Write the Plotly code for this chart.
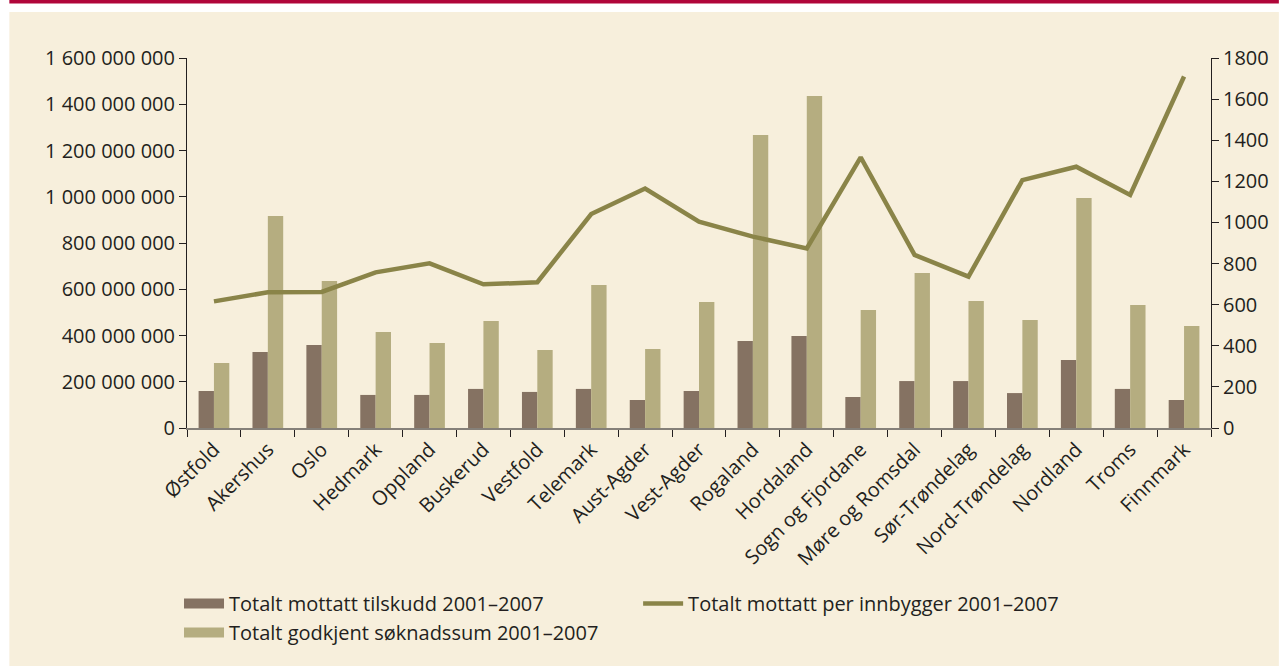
import plotly.graph_objects as go

# ---- data ----
categories = ["Østfold", "Akershus", "Oslo", "Hedmark", "Oppland", "Buskerud", "Vestfold",
              "Telemark", "Aust-Agder", "Vest-Agder", "Rogaland", "Hordaland",
              "Sogn og Fjordane", "Møre og Romsdal", "Sør-Trøndelag", "Nord-Trøndelag",
              "Nordland", "Troms", "Finnmark"]
tilskudd = [160e6, 329e6, 359e6, 143e6, 143e6, 169e6, 156e6, 169e6, 121e6, 160e6,
            376e6, 398e6, 134e6, 203e6, 203e6, 151e6, 294e6, 169e6, 121e6]
soknadssum = [281e6, 917e6, 636e6, 415e6, 368e6, 463e6, 337e6, 618e6, 342e6, 545e6,
              1267e6, 1436e6, 510e6, 670e6, 549e6, 467e6, 995e6, 532e6, 441e6]
per_innbygger = [616, 660, 662, 757, 801, 699, 709, 1041, 1165, 1004,
                 931, 874, 1317, 842, 736, 1206, 1271, 1134, 1710]

left_tickvals = [0, 2e8, 4e8, 6e8, 8e8, 1e9, 1.2e9, 1.4e9, 1.6e9]
left_ticktext = ["0", "200 000 000", "400 000 000", "600 000 000", "800 000 000",
                 "1 000 000 000", "1 200 000 000", "1 400 000 000", "1 600 000 000"]
right_tickvals = [0, 200, 400, 600, 800, 1000, 1200, 1400, 1600, 1800]
right_ticktext = ["0", "200", "400", "600", "800", "1000", "1200", "1400", "1600", "1800"]

name_tilskudd = "Totalt mottatt tilskudd 2001–2007"
name_soknad = "Totalt godkjent søknadssum 2001–2007"
name_line = "Totalt mottatt per innbygger 2001–2007"

# ---- style ----
C_DARK = "#857262"
C_LIGHT = "#b5ad80"
C_LINE = "#8a8448"
C_BG = "#f7efdc"
C_RED = "#b0063a"
C_TEXT = "#231f20"
FONT = "Open Sans"
FS = 20

W, H = 1281, 666
L, R, T, B = 187, 1213, 58, 428  # plot area in pixels


def px(x):
    return (x - L) / (R - L)


def py(y):
    return (B - y) / (B - T)


fig = go.Figure()
fig.add_trace(go.Bar(x=categories, y=tilskudd, name=name_tilskudd, marker_color=C_DARK,
                     marker_line_width=0, showlegend=False))
fig.add_trace(go.Bar(x=categories, y=soknadssum, name=name_soknad, marker_color=C_LIGHT,
                     marker_line_width=0, showlegend=False))
fig.add_trace(go.Scatter(x=categories, y=per_innbygger, name=name_line, mode="lines",
                         line=dict(color=C_LINE, width=4.5), yaxis="y2", legend="legend2"))
# legend swatches for the bar series (wide rectangles as in the reference)
fig.add_trace(go.Scatter(x=[None], y=[None], mode="lines", name=name_tilskudd,
                         line=dict(color=C_DARK, width=12), legend="legend"))
fig.add_trace(go.Scatter(x=[None], y=[None], mode="lines", name=name_soknad,
                         line=dict(color=C_LIGHT, width=12), legend="legend"))

axis_common = dict(showgrid=False, zeroline=False, showline=True, ticks="outside", ticklen=7,
                   tickcolor=C_TEXT, tickwidth=1, tickfont=dict(family=FONT, size=FS, color=C_TEXT))

fig.update_layout(
    width=W, height=H, autosize=False,
    margin=dict(l=L, r=W - R, t=T, b=H - B, pad=0),
    paper_bgcolor="white", plot_bgcolor=C_BG,
    font=dict(family=FONT, size=FS, color=C_TEXT),
    barmode="group", bargap=0.43, bargroupgap=0,
    xaxis=dict(type="category", range=[-0.5, len(categories) - 0.5], tickangle=-45,
               tickson="boundaries", showgrid=False, zeroline=False, showline=True,
               linecolor="#858079", linewidth=2, ticks="outside", ticklen=7,
               tickcolor=C_TEXT, tickwidth=1,
               tickfont=dict(family=FONT, size=FS, color=C_TEXT)),
    yaxis=dict(range=[0, 1.6e9], tickvals=left_tickvals, ticktext=left_ticktext,
               linecolor=C_TEXT, linewidth=1, **axis_common),
    yaxis2=dict(range=[0, 1800], tickvals=right_tickvals, ticktext=right_ticktext,
                overlaying="y", side="right", linecolor=C_TEXT, linewidth=1, **axis_common),
    legend=dict(x=px(179), y=py(584), xanchor="left", yanchor="top", orientation="v",
                itemwidth=40, bgcolor="rgba(0,0,0,0)", tracegroupgap=0,
                font=dict(family=FONT, size=FS, color=C_TEXT)),
    legend2=dict(x=px(639), y=py(584), xanchor="left", yanchor="top", orientation="v",
                 itemwidth=40, bgcolor="rgba(0,0,0,0)",
                 font=dict(family=FONT, size=FS, color=C_TEXT)),
    shapes=[
        dict(type="rect", xref="paper", yref="paper", x0=px(9), x1=px(W), y0=py(H), y1=py(12),
             fillcolor=C_BG, line_width=0, layer="below"),
        dict(type="rect", xref="paper", yref="paper", x0=px(9), x1=px(W), y0=py(3.5), y1=py(0),
             fillcolor=C_RED, line_width=0, layer="below"),
    ],
)

fig.write_html("out.html", config={"displayModeBar": False},
               post_script="document.body.style.margin='0';document.body.style.overflow='hidden';")
